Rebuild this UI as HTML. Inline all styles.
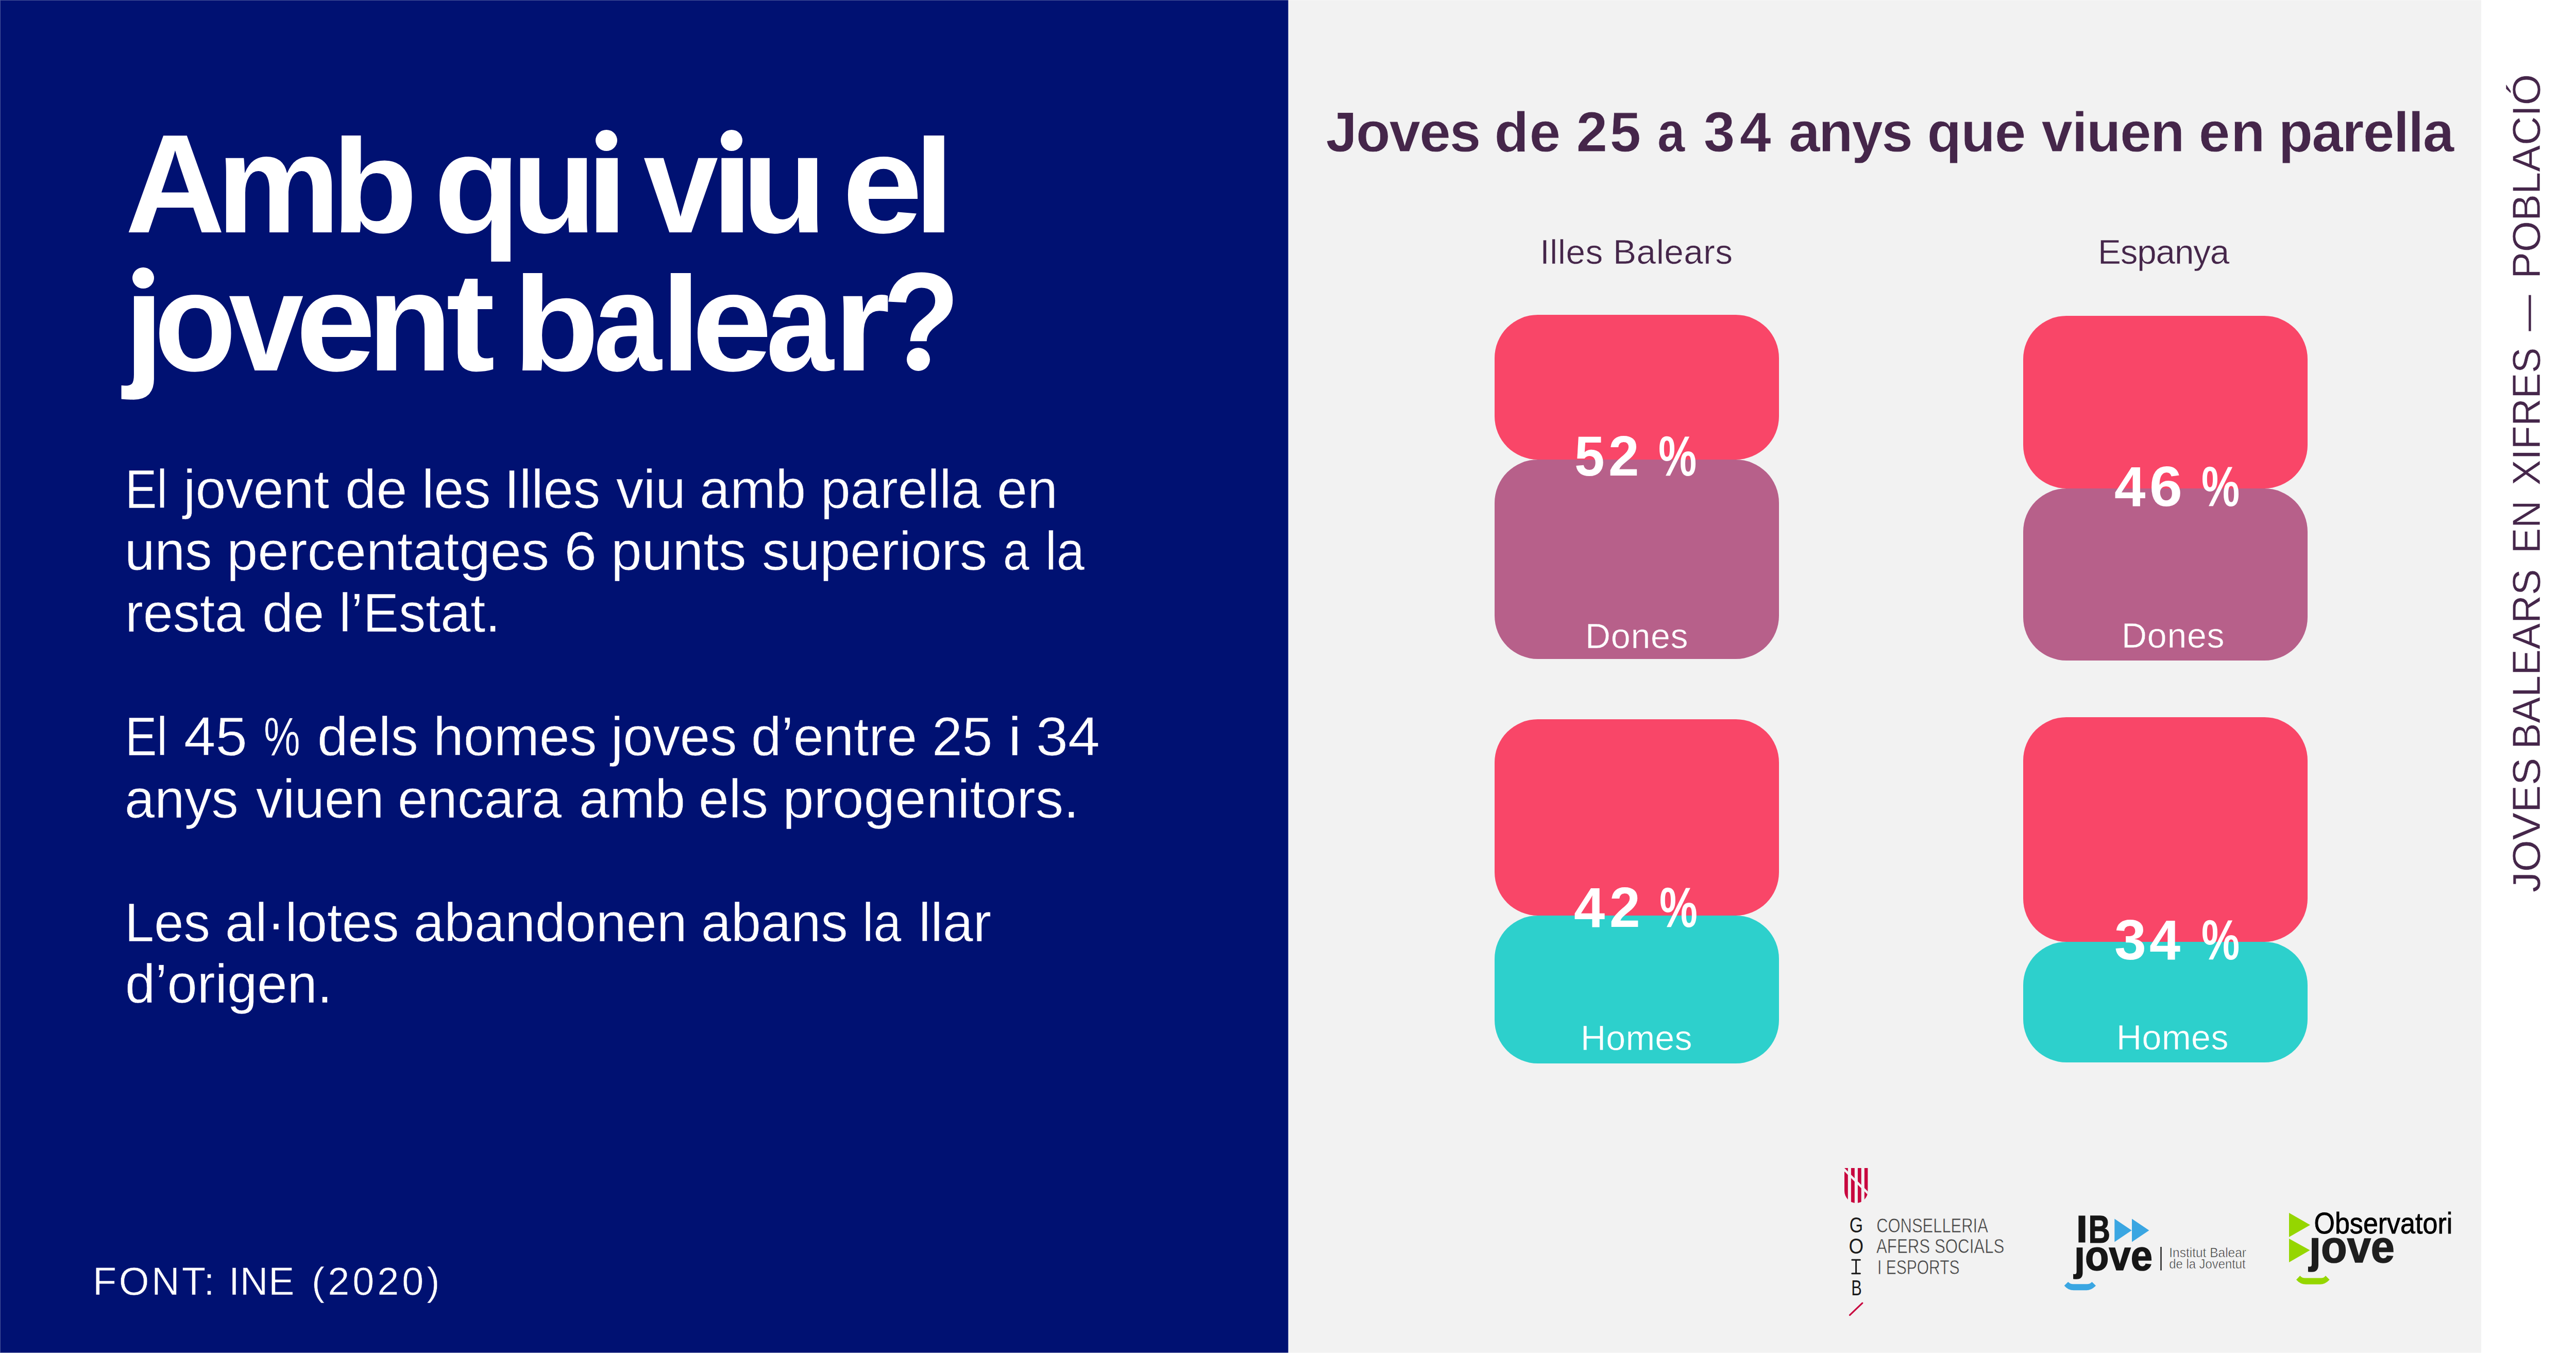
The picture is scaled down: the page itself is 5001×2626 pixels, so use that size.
<!DOCTYPE html>
<html><head><meta charset="utf-8"><title>Amb qui viu el jovent balear?</title>
<style>
html,body{margin:0;padding:0}
body{width:5001px;height:2626px;position:relative;overflow:hidden;background:#fff;font-family:"Liberation Sans",sans-serif}
.a{position:absolute;white-space:nowrap;line-height:1}
.bar{position:absolute}
</style></head><body>

<div class="a" style="left:0;top:0;width:2500px;height:2626px;background:#001172"></div>
<div class="a" style="left:2501px;top:0;width:2315px;height:2626px;background:#F2F2F2"></div>
<div class="a" style="left:2500px;top:0;width:1px;height:2626px;background:#8088BC"></div>
<div class="a" style="left:2501px;top:0;width:1px;height:2626px;background:#F8F8F6"></div>
<div class="bar" style="left:2901px;top:611px;width:552px;height:281px;background:#F94668;border-radius:84px"></div>
<div class="bar" style="left:2901px;top:892px;width:552px;height:387px;background:#B7608A;border-radius:84px"></div>
<div class="bar" style="left:3927px;top:613px;width:552px;height:334.5px;background:#F94668;border-radius:84px"></div>
<div class="bar" style="left:3927px;top:947.5px;width:552px;height:334.5px;background:#B7608A;border-radius:84px"></div>
<div class="bar" style="left:2901px;top:1396px;width:552px;height:381px;background:#F94668;border-radius:84px"></div>
<div class="bar" style="left:2901px;top:1777px;width:552px;height:287px;background:#2DD0CC;border-radius:84px"></div>
<div class="bar" style="left:3927px;top:1392px;width:552px;height:435.5px;background:#F94668;border-radius:84px"></div>
<div class="bar" style="left:3927px;top:1827.5px;width:552px;height:234.5px;background:#2DD0CC;border-radius:84px"></div>
<div class="a" style="left:242.81px;top:219.85px;font-size:273px;font-weight:700;color:#fff;transform-origin:0 231.15px;transform:scale(0.9839,1.0000)">A</div>
<div class="a" style="left:419.66px;top:219.85px;font-size:273px;font-weight:700;color:#fff;transform-origin:0 231.15px;transform:scale(0.9913,1.0000)">m</div>
<div class="a" style="left:644.43px;top:219.85px;font-size:273px;font-weight:700;color:#fff;transform-origin:0 231.15px;transform:scale(0.9988,0.9504)">b</div>
<div class="a" style="left:842.42px;top:219.85px;font-size:273px;font-weight:700;color:#fff;transform-origin:0 231.15px;transform:scale(1.0073,1.0000)">q</div>
<div class="a" style="left:992.58px;top:219.85px;font-size:273px;font-weight:700;color:#fff;transform-origin:0 231.15px;transform:scale(0.9876,1.0000)">u</div>
<div class="a" style="left:1135.68px;top:219.85px;font-size:273px;font-weight:700;color:#fff;transform-origin:0 231.15px;transform:scale(1.1079,1.0000)">ı</div>
<div class="a" style="left:1249.08px;top:219.85px;font-size:273px;font-weight:700;color:#fff;transform-origin:0 231.15px;transform:scale(0.9548,1.0000)">v</div>
<div class="a" style="left:1378.53px;top:219.85px;font-size:273px;font-weight:700;color:#fff;transform-origin:0 231.15px;transform:scale(1.1053,1.0000)">ı</div>
<div class="a" style="left:1440.06px;top:219.85px;font-size:273px;font-weight:700;color:#fff;transform-origin:0 231.15px;transform:scale(0.9891,1.0000)">u</div>
<div class="a" style="left:1635.47px;top:219.85px;font-size:273px;font-weight:700;color:#fff;transform-origin:0 231.15px;transform:scale(1.0248,1.0000)">e</div>
<div class="a" style="left:1773.20px;top:219.85px;font-size:273px;font-weight:700;color:#fff;transform-origin:0 231.15px;transform:scale(1.0545,0.9504)">l</div>
<div class="a" style="left:240.43px;top:487.85px;font-size:273px;font-weight:700;color:#fff;transform-origin:0 231.15px;transform:scale(1.0391,1.0000)">ȷ</div>
<div class="a" style="left:299.09px;top:487.85px;font-size:273px;font-weight:700;color:#fff;transform-origin:0 231.15px;transform:scale(0.9578,1.0000)">o</div>
<div class="a" style="left:443.68px;top:487.85px;font-size:273px;font-weight:700;color:#fff;transform-origin:0 231.15px;transform:scale(0.9575,1.0000)">v</div>
<div class="a" style="left:574.00px;top:487.85px;font-size:273px;font-weight:700;color:#fff;transform-origin:0 231.15px;transform:scale(1.0217,1.0000)">e</div>
<div class="a" style="left:713.33px;top:487.85px;font-size:273px;font-weight:700;color:#fff;transform-origin:0 231.15px;transform:scale(0.9876,1.0000)">n</div>
<div class="a" style="left:866.03px;top:487.85px;font-size:273px;font-weight:700;color:#fff;transform-origin:0 231.15px;transform:scale(1.0422,1.0000)">t</div>
<div class="a" style="left:995.96px;top:487.85px;font-size:273px;font-weight:700;color:#fff;transform-origin:0 231.15px;transform:scale(1.0024,0.9554)">b</div>
<div class="a" style="left:1151.63px;top:487.85px;font-size:273px;font-weight:700;color:#fff;transform-origin:0 231.15px;transform:scale(0.8711,1.0000)">a</div>
<div class="a" style="left:1281.65px;top:487.85px;font-size:273px;font-weight:700;color:#fff;transform-origin:0 231.15px;transform:scale(1.0412,0.9554)">l</div>
<div class="a" style="left:1342.96px;top:487.85px;font-size:273px;font-weight:700;color:#fff;transform-origin:0 231.15px;transform:scale(1.0255,1.0000)">e</div>
<div class="a" style="left:1487.18px;top:487.85px;font-size:273px;font-weight:700;color:#fff;transform-origin:0 231.15px;transform:scale(0.8649,1.0000)">a</div>
<div class="a" style="left:1618.43px;top:487.85px;font-size:273px;font-weight:700;color:#fff;transform-origin:0 231.15px;transform:scale(1.0319,1.0000)">r</div>
<div class="a" style="left:1712.50px;top:487.85px;font-size:273px;font-weight:700;color:#fff;transform-origin:0 231.15px;transform:scale(0.9018,1.0000)">?</div>
<div class="a" style="left:1763px;top:681px;width:40px;height:40px;background:#001172"></div>
<div class="a" style="left:1760px;top:675px;width:45px;height:45px;border-radius:50%;background:#fff"></div>
<div class="a" style="left:1156.4px;top:251.5px;width:42px;height:41px;border-radius:50%;background:#fff"></div>
<div class="a" style="left:1399.4px;top:251.5px;width:42px;height:41px;border-radius:50%;background:#fff"></div>
<div class="a" style="left:257.0px;top:518.5px;width:42px;height:41px;border-radius:50%;background:#fff"></div>
<div class="a" style="left:3056.46px;top:829.86px;font-size:110px;font-weight:700;color:#fff;transform-origin:0 0;transform:scaleX(0.9574)">5</div>
<div class="a" style="left:3122.20px;top:829.86px;font-size:110px;font-weight:700;color:#fff;transform-origin:0 0;transform:scaleX(0.9706)">2</div>
<div class="a" style="left:3219.02px;top:829.86px;font-size:110px;font-weight:700;color:#fff;transform-origin:0 0;transform:scaleX(0.7584)">%</div>
<div class="a" style="left:4104.26px;top:889.36px;font-size:110px;font-weight:700;color:#fff;transform-origin:0 0;transform:scaleX(0.9878)">4</div>
<div class="a" style="left:4172.00px;top:889.36px;font-size:110px;font-weight:700;color:#fff;transform-origin:0 0;transform:scaleX(1.0437)">6</div>
<div class="a" style="left:4272.92px;top:889.36px;font-size:110px;font-weight:700;color:#fff;transform-origin:0 0;transform:scaleX(0.7584)">%</div>
<div class="a" style="left:3055.36px;top:1706.36px;font-size:110px;font-weight:700;color:#fff;transform-origin:0 0;transform:scaleX(0.9827)">4</div>
<div class="a" style="left:3124.28px;top:1706.36px;font-size:110px;font-weight:700;color:#fff;transform-origin:0 0;transform:scaleX(0.9743)">2</div>
<div class="a" style="left:3221.13px;top:1706.36px;font-size:110px;font-weight:700;color:#fff;transform-origin:0 0;transform:scaleX(0.7551)">%</div>
<div class="a" style="left:4104.25px;top:1768.86px;font-size:110px;font-weight:700;color:#fff;transform-origin:0 0;transform:scaleX(1.0114)">3</div>
<div class="a" style="left:4172.46px;top:1768.86px;font-size:110px;font-weight:700;color:#fff;transform-origin:0 0;transform:scaleX(0.9827)">4</div>
<div class="a" style="left:4272.92px;top:1768.86px;font-size:110px;font-weight:700;color:#fff;transform-origin:0 0;transform:scaleX(0.7584)">%</div>
<div class="a" style="left:4867px;top:1732.00px;font-size:75.6px;color:#45264A;transform-origin:0 0;transform:rotate(-90deg) scaleX(1.0537);-webkit-text-stroke:0.5px #fff">JOVES</div>
<div class="a" style="left:4867px;top:1453.80px;font-size:75.6px;color:#45264A;transform-origin:0 0;transform:rotate(-90deg) scaleX(1.0021);-webkit-text-stroke:0.5px #fff">BALEARS</div>
<div class="a" style="left:4867px;top:1074.00px;font-size:75.6px;color:#45264A;transform-origin:0 0;transform:rotate(-90deg) scaleX(0.9772);-webkit-text-stroke:0.5px #fff">EN</div>
<div class="a" style="left:4867px;top:942.00px;font-size:75.6px;color:#45264A;transform-origin:0 0;transform:rotate(-90deg) scaleX(0.9793);-webkit-text-stroke:0.5px #fff">XIFRES</div>
<div class="a" style="left:4867px;top:643.00px;font-size:75.6px;color:#45264A;transform-origin:0 0;transform:rotate(-90deg) scaleX(0.9361);-webkit-text-stroke:0.5px #fff">—</div>
<div class="a" style="left:4867px;top:540.60px;font-size:75.6px;color:#45264A;transform-origin:0 0;transform:rotate(-90deg) scaleX(1.0277);-webkit-text-stroke:0.5px #fff">POBLACIÓ</div>
<div class="a" id="w0_0" style="left:243.00px;top:897.10px;font-size:105px;font-weight:400;color:#fff;letter-spacing:0.000px;transform-origin:0 0;transform:scaleX(0.8774);-webkit-text-stroke:0.6px #001172">El</div>
<div class="a" id="w0_1" style="left:356.00px;top:897.10px;font-size:105px;font-weight:400;color:#fff;letter-spacing:0.000px;transform-origin:0 0;transform:scaleX(1.0100);-webkit-text-stroke:0.6px #001172">jovent</div>
<div class="a" id="w0_2" style="left:670.00px;top:897.10px;font-size:105px;font-weight:400;color:#fff;letter-spacing:0.000px;transform-origin:0 0;transform:scaleX(1.0316);-webkit-text-stroke:0.6px #001172">de</div>
<div class="a" id="w0_3" style="left:819.00px;top:897.10px;font-size:105px;font-weight:400;color:#fff;letter-spacing:0.000px;transform-origin:0 0;transform:scaleX(0.9952);-webkit-text-stroke:0.6px #001172">les</div>
<div class="a" id="w0_4" style="left:979.00px;top:897.10px;font-size:105px;font-weight:400;color:#fff;letter-spacing:0.000px;transform-origin:0 0;transform:scaleX(0.9966);-webkit-text-stroke:0.6px #001172">Illes</div>
<div class="a" id="w0_5" style="left:1196.00px;top:897.10px;font-size:105px;font-weight:400;color:#fff;letter-spacing:0.000px;transform-origin:0 0;transform:scaleX(1.0049);-webkit-text-stroke:0.6px #001172">viu</div>
<div class="a" id="w0_6" style="left:1358.00px;top:897.10px;font-size:105px;font-weight:400;color:#fff;letter-spacing:0.000px;transform-origin:0 0;transform:scaleX(1.0103);-webkit-text-stroke:0.6px #001172">amb</div>
<div class="a" id="w0_7" style="left:1593.00px;top:897.10px;font-size:105px;font-weight:400;color:#fff;letter-spacing:0.000px;transform-origin:0 0;transform:scaleX(0.9871);-webkit-text-stroke:0.6px #001172">parella</div>
<div class="a" id="w0_8" style="left:1935.00px;top:897.10px;font-size:105px;font-weight:400;color:#fff;letter-spacing:0.000px;transform-origin:0 0;transform:scaleX(1.0095);-webkit-text-stroke:0.6px #001172">en</div>
<div class="a" id="w1_0" style="left:242.00px;top:1017.10px;font-size:105px;font-weight:400;color:#fff;letter-spacing:0.000px;transform-origin:0 0;transform:scaleX(1.0026);-webkit-text-stroke:0.6px #001172">uns</div>
<div class="a" id="w1_1" style="left:440.00px;top:1017.10px;font-size:105px;font-weight:400;color:#fff;letter-spacing:0.000px;transform-origin:0 0;transform:scaleX(1.0312);-webkit-text-stroke:0.6px #001172">percentatges</div>
<div class="a" id="w1_2" style="left:1095.00px;top:1017.10px;font-size:105px;font-weight:400;color:#fff;letter-spacing:0.000px;transform-origin:0 0;transform:scaleX(1.0820);-webkit-text-stroke:0.6px #001172">6</div>
<div class="a" id="w1_3" style="left:1186.00px;top:1017.10px;font-size:105px;font-weight:400;color:#fff;letter-spacing:0.000px;transform-origin:0 0;transform:scaleX(1.0227);-webkit-text-stroke:0.6px #001172">punts</div>
<div class="a" id="w1_4" style="left:1479.00px;top:1017.10px;font-size:105px;font-weight:400;color:#fff;letter-spacing:0.000px;transform-origin:0 0;transform:scaleX(1.0123);-webkit-text-stroke:0.6px #001172">superiors</div>
<div class="a" id="w1_5" style="left:1947.00px;top:1017.10px;font-size:105px;font-weight:400;color:#fff;letter-spacing:0.000px;transform-origin:0 0;transform:scaleX(0.8708);-webkit-text-stroke:0.6px #001172">a</div>
<div class="a" id="w1_6" style="left:2029.00px;top:1017.10px;font-size:105px;font-weight:400;color:#fff;letter-spacing:0.000px;transform-origin:0 0;transform:scaleX(0.9285);-webkit-text-stroke:0.6px #001172">la</div>
<div class="a" id="w2_0" style="left:243.00px;top:1137.10px;font-size:105px;font-weight:400;color:#fff;letter-spacing:0.000px;transform-origin:0 0;transform:scaleX(0.9939);-webkit-text-stroke:0.6px #001172">resta</div>
<div class="a" id="w2_1" style="left:509.00px;top:1137.10px;font-size:105px;font-weight:400;color:#fff;letter-spacing:0.000px;transform-origin:0 0;transform:scaleX(1.0319);-webkit-text-stroke:0.6px #001172">de</div>
<div class="a" id="w2_2" style="left:658.00px;top:1137.10px;font-size:105px;font-weight:400;color:#fff;letter-spacing:0.000px;transform-origin:0 0;transform:scaleX(0.9940);-webkit-text-stroke:0.6px #001172">l’Estat.</div>
<div class="a" id="w3_0" style="left:243.00px;top:1377.10px;font-size:105px;font-weight:400;color:#fff;letter-spacing:0.000px;transform-origin:0 0;transform:scaleX(0.8774);-webkit-text-stroke:0.6px #001172">El</div>
<div class="a" id="w3_1" style="left:357.00px;top:1377.10px;font-size:105px;font-weight:400;color:#fff;letter-spacing:0.000px;transform-origin:0 0;transform:scaleX(1.0511);-webkit-text-stroke:0.6px #001172">45</div>
<div class="a" id="w3_2" style="left:512.00px;top:1377.10px;font-size:105px;font-weight:400;color:#fff;letter-spacing:0.000px;transform-origin:0 0;transform:scaleX(0.7568);-webkit-text-stroke:0.6px #001172">%</div>
<div class="a" id="w3_3" style="left:616.00px;top:1377.10px;font-size:105px;font-weight:400;color:#fff;letter-spacing:0.000px;transform-origin:0 0;transform:scaleX(1.0164);-webkit-text-stroke:0.6px #001172">dels</div>
<div class="a" id="w3_4" style="left:841.00px;top:1377.10px;font-size:105px;font-weight:400;color:#fff;letter-spacing:0.000px;transform-origin:0 0;transform:scaleX(1.0073);-webkit-text-stroke:0.6px #001172">homes</div>
<div class="a" id="w3_5" style="left:1186.00px;top:1377.10px;font-size:105px;font-weight:400;color:#fff;letter-spacing:0.000px;transform-origin:0 0;transform:scaleX(0.9967);-webkit-text-stroke:0.6px #001172">joves</div>
<div class="a" id="w3_6" style="left:1458.00px;top:1377.10px;font-size:105px;font-weight:400;color:#fff;letter-spacing:0.000px;transform-origin:0 0;transform:scaleX(1.0033);-webkit-text-stroke:0.6px #001172">d’entre</div>
<div class="a" id="w3_7" style="left:1809.00px;top:1377.10px;font-size:105px;font-weight:400;color:#fff;letter-spacing:0.000px;transform-origin:0 0;transform:scaleX(1.0057);-webkit-text-stroke:0.6px #001172">25</div>
<div class="a" id="w3_8" style="left:1957.10px;top:1377.10px;font-size:105px;font-weight:400;color:#fff;letter-spacing:0.000px;transform-origin:0 0;transform:scaleX(1.1000);-webkit-text-stroke:0.6px #001172">i</div>
<div class="a" id="w3_9" style="left:2011.00px;top:1377.10px;font-size:105px;font-weight:400;color:#fff;letter-spacing:0.000px;transform-origin:0 0;transform:scaleX(1.0602);-webkit-text-stroke:0.6px #001172">34</div>
<div class="a" id="w4_0" style="left:242.00px;top:1498.10px;font-size:105px;font-weight:400;color:#fff;letter-spacing:0.000px;transform-origin:0 0;transform:scaleX(0.9954);-webkit-text-stroke:0.6px #001172">anys</div>
<div class="a" id="w4_1" style="left:497.00px;top:1498.10px;font-size:105px;font-weight:400;color:#fff;letter-spacing:0.000px;transform-origin:0 0;transform:scaleX(0.9902);-webkit-text-stroke:0.6px #001172">viuen</div>
<div class="a" id="w4_2" style="left:772.00px;top:1498.10px;font-size:105px;font-weight:400;color:#fff;letter-spacing:0.000px;transform-origin:0 0;transform:scaleX(0.9906);-webkit-text-stroke:0.6px #001172">encara</div>
<div class="a" id="w4_3" style="left:1124.00px;top:1498.10px;font-size:105px;font-weight:400;color:#fff;letter-spacing:0.000px;transform-origin:0 0;transform:scaleX(1.0093);-webkit-text-stroke:0.6px #001172">amb</div>
<div class="a" id="w4_4" style="left:1356.00px;top:1498.10px;font-size:105px;font-weight:400;color:#fff;letter-spacing:0.000px;transform-origin:0 0;transform:scaleX(1.0065);-webkit-text-stroke:0.6px #001172">els</div>
<div class="a" id="w4_5" style="left:1519.00px;top:1498.10px;font-size:105px;font-weight:400;color:#fff;letter-spacing:0.000px;transform-origin:0 0;transform:scaleX(1.0379);-webkit-text-stroke:0.6px #001172">progenitors.</div>
<div class="a" id="w5_0" style="left:242.00px;top:1738.10px;font-size:105px;font-weight:400;color:#fff;letter-spacing:0.000px;transform-origin:0 0;transform:scaleX(0.9797);-webkit-text-stroke:0.6px #001172">Les</div>
<div class="a" id="w5_1" style="left:437.00px;top:1738.10px;font-size:105px;font-weight:400;color:#fff;letter-spacing:0.000px;transform-origin:0 0;transform:scaleX(0.9976);-webkit-text-stroke:0.6px #001172">al·lotes</div>
<div class="a" id="w5_2" style="left:803.00px;top:1738.10px;font-size:105px;font-weight:400;color:#fff;letter-spacing:0.000px;transform-origin:0 0;transform:scaleX(1.0097);-webkit-text-stroke:0.6px #001172">abandonen</div>
<div class="a" id="w5_3" style="left:1361.00px;top:1738.10px;font-size:105px;font-weight:400;color:#fff;letter-spacing:0.000px;transform-origin:0 0;transform:scaleX(0.9950);-webkit-text-stroke:0.6px #001172">abans</div>
<div class="a" id="w5_4" style="left:1674.00px;top:1738.10px;font-size:105px;font-weight:400;color:#fff;letter-spacing:0.000px;transform-origin:0 0;transform:scaleX(0.9207);-webkit-text-stroke:0.6px #001172">la</div>
<div class="a" id="w5_5" style="left:1783.00px;top:1738.10px;font-size:105px;font-weight:400;color:#fff;letter-spacing:0.000px;transform-origin:0 0;transform:scaleX(1.0076);-webkit-text-stroke:0.6px #001172">llar</div>
<div class="a" id="w6_0" style="left:243.00px;top:1857.10px;font-size:105px;font-weight:400;color:#fff;letter-spacing:0.000px;transform-origin:0 0;transform:scaleX(0.9974);-webkit-text-stroke:0.6px #001172">d’origen.</div>
<div class="a" id="f_0" style="left:180.00px;top:2450.07px;font-size:75.5px;font-weight:400;color:#fff;letter-spacing:4.575px;-webkit-text-stroke:0.6px #001172">FONT:</div>
<div class="a" id="f_1" style="left:444.00px;top:2450.07px;font-size:75.5px;font-weight:400;color:#fff;letter-spacing:0.750px;-webkit-text-stroke:0.6px #001172">INE</div>
<div class="a" id="f_2" style="left:605.00px;top:2450.07px;font-size:75.5px;font-weight:400;color:#fff;letter-spacing:6.040px;-webkit-text-stroke:0.6px #001172">(2020)</div>
<div class="a" id="rt0" style="left:2573.40px;top:201.71px;font-size:109px;font-weight:700;color:#45264A;letter-spacing:-2.000px;-webkit-text-stroke:0.8px #F2F2F2">Joves</div>
<div class="a" id="rt1" style="left:2900.40px;top:201.71px;font-size:109px;font-weight:700;color:#45264A;letter-spacing:1.500px;-webkit-text-stroke:0.8px #F2F2F2">de</div>
<div class="a" id="rt2" style="left:3059.40px;top:201.71px;font-size:109px;font-weight:700;color:#45264A;letter-spacing:4.500px;-webkit-text-stroke:0.8px #F2F2F2">25</div>
<div class="a" id="rt3" style="left:3216.80px;top:201.71px;font-size:109px;font-weight:700;color:#45264A;letter-spacing:0.000px;transform-origin:0 0;transform:scaleX(0.8797);-webkit-text-stroke:0.8px #F2F2F2">a</div>
<div class="a" id="rt4" style="left:3306.80px;top:201.71px;font-size:109px;font-weight:700;color:#45264A;letter-spacing:9.500px;-webkit-text-stroke:0.8px #F2F2F2">34</div>
<div class="a" id="rt5" style="left:3472.00px;top:201.71px;font-size:109px;font-weight:700;color:#45264A;letter-spacing:-2.500px;-webkit-text-stroke:0.8px #F2F2F2">anys</div>
<div class="a" id="rt6" style="left:3740.60px;top:201.71px;font-size:109px;font-weight:700;color:#45264A;letter-spacing:-1.000px;-webkit-text-stroke:0.8px #F2F2F2">que</div>
<div class="a" id="rt7" style="left:3962.40px;top:201.71px;font-size:109px;font-weight:700;color:#45264A;letter-spacing:-1.625px;-webkit-text-stroke:0.8px #F2F2F2">viuen</div>
<div class="a" id="rt8" style="left:4267.80px;top:201.71px;font-size:109px;font-weight:700;color:#45264A;letter-spacing:1.500px;-webkit-text-stroke:0.8px #F2F2F2">en</div>
<div class="a" id="rt9" style="left:4422.40px;top:201.71px;font-size:109px;font-weight:700;color:#45264A;letter-spacing:-1.750px;-webkit-text-stroke:0.8px #F2F2F2">parella</div>
<div class="a" id="cib" style="left:2989.00px;top:454.93px;font-size:67.4px;font-weight:400;color:#45264A;letter-spacing:0.583px;-webkit-text-stroke:0.5px #F2F2F2">Illes Balears</div>
<div class="a" id="ces" style="left:4072.00px;top:454.93px;font-size:67.4px;font-weight:400;color:#45264A;letter-spacing:-1.167px;-webkit-text-stroke:0.5px #F2F2F2">Espanya</div>
<div class="a" id="d1" style="left:3077.00px;top:1200.42px;font-size:68px;font-weight:400;color:#fff;letter-spacing:0.750px;-webkit-text-stroke:0.5px #B7608A">Dones</div>
<div class="a" id="d2" style="left:4118.00px;top:1199.42px;font-size:68px;font-weight:400;color:#fff;letter-spacing:0.750px;-webkit-text-stroke:0.5px #B7608A">Dones</div>
<div class="a" id="h1" style="left:3068.00px;top:1980.42px;font-size:68px;font-weight:400;color:#fff;letter-spacing:0.250px;-webkit-text-stroke:0.5px #2DD0CC">Homes</div>
<div class="a" id="h2" style="left:4108.00px;top:1979.42px;font-size:68px;font-weight:400;color:#fff;letter-spacing:0.500px;-webkit-text-stroke:0.5px #2DD0CC">Homes</div>

<svg class="a" style="left:3500px;top:2200px" width="1316" height="426" viewBox="3500 2200 1316 426">
 <defs>
  <clipPath id="shc"><path d="M3580,2267 H3625.6 V2311 A22.8,24 0 0 1 3580,2311 Z"/></clipPath>
 </defs>
 <g clip-path="url(#shc)">
  <rect x="3580" y="2267" width="6.8" height="70" fill="#C8073F"/>
  <rect x="3592.9" y="2267" width="6.9" height="70" fill="#C8073F"/>
  <rect x="3605.9" y="2267" width="6.8" height="70" fill="#C8073F"/>
  <rect x="3618.8" y="2267" width="6.8" height="70" fill="#C8073F"/>
  <polygon points="3578,2265 3628,2315 3628,2321.5 3578,2271.5" fill="#F2F2F2"/>
 </g>
 <g font-family="'Liberation Sans', sans-serif" fill="#1a1a1a">
  <text x="3589.7" y="2391.5" font-size="42.5" textLength="26.3" lengthAdjust="spacingAndGlyphs">G</text>
  <text x="3588.6" y="2433" font-size="42.5" textLength="28.6" lengthAdjust="spacingAndGlyphs">O</text>
  <text x="3593.3" y="2514" font-size="42.5" textLength="20.5" lengthAdjust="spacingAndGlyphs">B</text>
 </g>
 <g stroke="#1a1a1a" stroke-width="3" stroke-linecap="round" fill="none">
  <path d="M3594.8,2445.3 H3610.4 M3602.6,2445.3 V2471.8 M3594.8,2471.8 H3610.4"/>
 </g>
 <path d="M3590.5,2552.3 L3614.8,2529.1" stroke="#C8073F" stroke-width="3.2" stroke-linecap="round"/>
 <g font-family="'Liberation Sans', sans-serif" fill="#444" font-size="38.5" stroke="#F2F2F2" stroke-width="0.6">
  <text x="3642.2" y="2391.8" textLength="216.6" lengthAdjust="spacingAndGlyphs">CONSELLERIA</text>
  <text x="3642" y="2432.4" textLength="248.4" lengthAdjust="spacingAndGlyphs">AFERS SOCIALS</text>
  <text x="3644" y="2472.8" textLength="159.5" lengthAdjust="spacingAndGlyphs">I ESPORTS</text>
 </g>
 <!-- IB jove -->
 <g font-family="'Liberation Sans', sans-serif" font-weight="700" fill="#161616">
  <rect x="4034.4" y="2359.4" width="13.1" height="52.1"/>
  <text x="4053.5" y="2411.5" font-size="75.6" textLength="42.5" lengthAdjust="spacingAndGlyphs" stroke="#161616" stroke-width="1.2">B</text>
  <text x="4026" y="2465" font-size="82.4" textLength="152" lengthAdjust="spacingAndGlyphs" stroke="#161616" stroke-width="1.6">ȷove</text>
 </g>
 <polygon points="4104.3,2365.4 4137.6,2388 4104.3,2410.4" fill="#3AA6E2"/>
 <polygon points="4138,2365.4 4171.4,2388 4138,2410.4" fill="#3AA6E2"/>
 <rect x="4193" y="2420" width="3" height="45.7" fill="#444"/>
 <g font-family="'Liberation Sans', sans-serif" fill="#333" font-size="25" stroke="#F2F2F2" stroke-width="0.6">
  <text x="4210.3" y="2440.2" textLength="149.7" lengthAdjust="spacingAndGlyphs">Institut Balear</text>
  <text x="4210.3" y="2461.9" textLength="148.4" lengthAdjust="spacingAndGlyphs">de la Joventut</text>
 </g>
 <path d="M4006.7,2495.2 L4014.2,2488 Q4018,2492.2 4024,2492.2 L4051,2492.2 Q4057,2492.2 4060.4,2488 L4068,2495.2 Q4060,2504.3 4050,2504.3 L4025,2504.3 Q4014,2504.3 4006.7,2495.2 Z" fill="#3AA6E2"/>
 <!-- Observatori jove -->
 <polygon points="4443,2354 4484,2377.5 4443,2401" fill="#95D600"/>
 <polygon points="4443,2404 4483.6,2426.4 4443,2450" fill="#95D600"/>
 <g font-family="'Liberation Sans', sans-serif" fill="#000">
  <text x="4491.5" y="2393.6" font-size="57.8" textLength="268.8" lengthAdjust="spacingAndGlyphs" stroke="#000" stroke-width="0.9">Observatori</text>
 </g>
 <g font-family="'Liberation Sans', sans-serif" font-weight="700" fill="#1e1e1e">
  <text x="4482" y="2449.9" font-size="87" textLength="166" lengthAdjust="spacingAndGlyphs" stroke="#1e1e1e" stroke-width="1.6">ȷove</text>
 </g>
 <path d="M4457,2483.7 L4464.4,2476 Q4468,2480.6 4474,2480.6 L4505,2480.6 Q4511,2480.6 4513.9,2476 L4521.7,2483.7 Q4513,2492.8 4503,2492.8 L4476,2492.8 Q4465,2492.8 4457,2483.7 Z" fill="#95D600"/>
</svg>
<div class="a" style="left:0;top:0;width:5001px;height:1px;background:rgba(255,255,255,0.3)"></div>
<div class="a" style="left:0;top:1px;width:1px;height:2624px;background:rgba(255,255,255,0.3)"></div>
<div class="a" style="left:0;top:2625px;width:5001px;height:1px;background:rgba(255,255,255,0.55)"></div>

</body></html>
